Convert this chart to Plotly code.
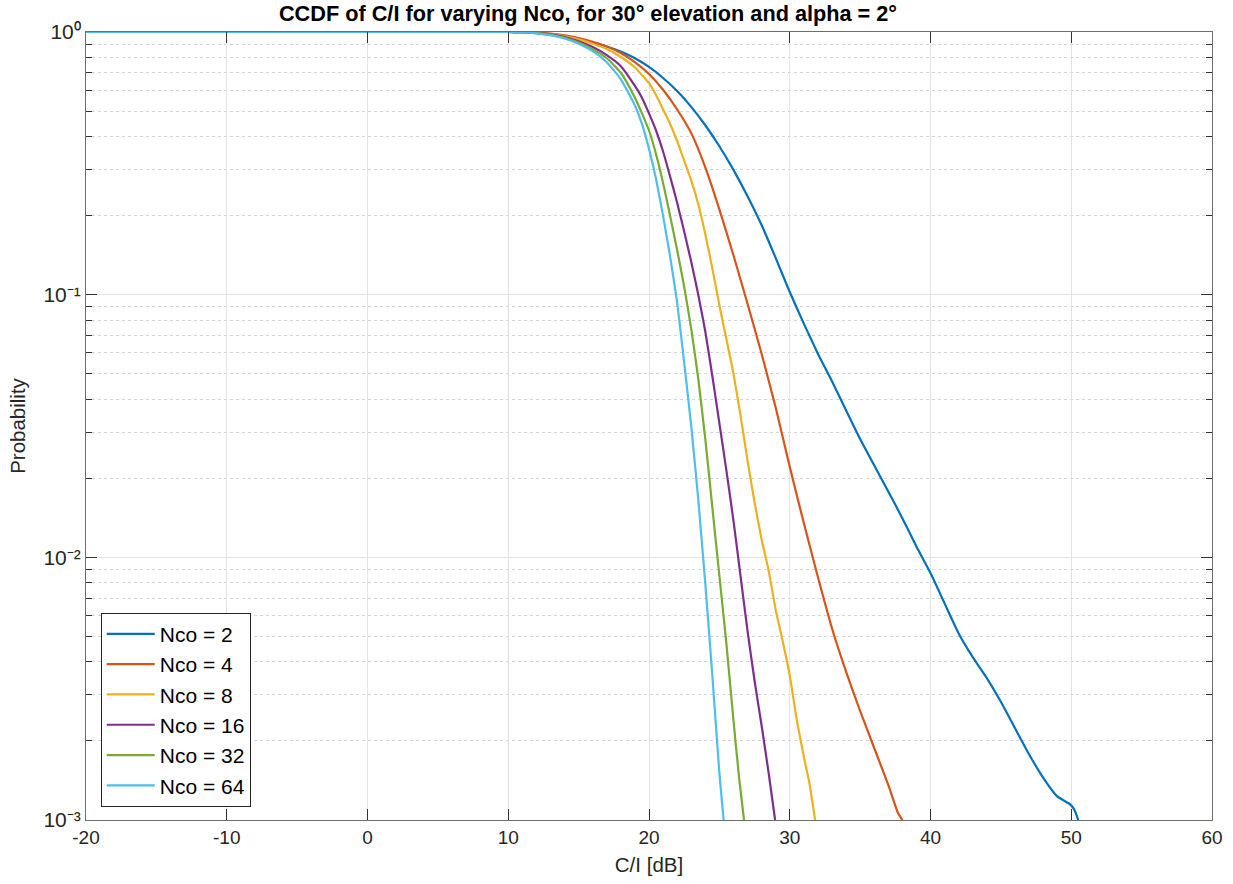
import plotly.graph_objects as go

# C/I [dB] and CCDF probabilities
ci_2 = [-20, 10, 11, 12, 13, 14, 15, 16, 17, 18, 19, 20, 21, 22, 23, 24, 25, 26, 27, 28, 29, 30,
        31, 32, 33, 34, 35, 36, 37, 38, 39, 40, 41, 42, 43, 44, 45, 46, 47, 48, 49, 49.9, 50.2, 50.5]
p_2 = [1, 1, 0.9977, 0.9931, 0.9817, 0.9638, 0.9397, 0.9120, 0.8810, 0.8433, 0.7943, 0.7362,
       0.6683, 0.5957, 0.5188, 0.4416, 0.3673, 0.2985, 0.2371, 0.1841, 0.1380, 0.1023, 0.0776,
       0.0596, 0.0468, 0.0363, 0.0282, 0.0224, 0.0178, 0.0141, 0.0110, 0.00871, 0.00668,
       0.00513, 0.00417, 0.00347, 0.00282, 0.00224, 0.00178, 0.00145, 0.00123, 0.00115,
       0.00110, 0.00100]

ci_4 = [-20, 10, 11, 12, 13, 14, 15, 16, 17, 18, 19, 20, 21, 22, 23, 24, 25, 26, 27, 28, 29, 30,
        31, 32, 33, 34, 35, 36, 37, 37.7, 38.0]
p_4 = [1, 1, 0.9977, 0.9954, 0.9863, 0.9705, 0.9484, 0.9183, 0.8810, 0.8318, 0.7674, 0.6918,
       0.6026, 0.5070, 0.4121, 0.3055, 0.2113, 0.1413, 0.0923, 0.0596, 0.0372, 0.0221, 0.0135,
       0.00841, 0.00537, 0.00367, 0.00260, 0.00188, 0.00136, 0.00106, 0.00100]

ci_8 = [-20, 10, 11, 12, 13, 14, 15, 16, 17, 18, 19, 20, 20.5, 21, 21.5, 22, 22.5, 23, 23.5, 24,
        24.5, 25, 25.5, 26, 26.5, 27, 27.5, 28, 28.5, 29, 29.5, 30, 30.5, 31, 31.4, 31.8]
p_8 = [1, 1, 0.9977, 0.9931, 0.9817, 0.9638, 0.9376, 0.9016, 0.8610, 0.8035, 0.7328, 0.6383,
       0.5754, 0.5070, 0.4467, 0.3846, 0.3236, 0.2723, 0.2213, 0.1698, 0.1259, 0.0912, 0.0676,
       0.0501, 0.0347, 0.0234, 0.0162, 0.0117, 0.00891, 0.00631, 0.00479, 0.00355, 0.00240,
       0.00174, 0.00138, 0.00100]

ci_16 = [-20, 10, 11, 12, 13, 14, 15, 16, 17, 18, 19, 19.5, 20, 20.5, 21, 21.5, 22, 22.5, 23, 23.5,
         24, 24.5, 25, 25.5, 26, 26.5, 27, 27.5, 28, 28.5, 28.96]
p_16 = [1, 1, 0.9977, 0.9931, 0.9795, 0.9572, 0.9226, 0.8770, 0.8166, 0.7413, 0.6237, 0.5623,
        0.4898, 0.4217, 0.3508, 0.2818, 0.2239, 0.1738, 0.1334, 0.1000, 0.0724, 0.0490, 0.0324,
        0.0214, 0.0138, 0.00851, 0.00525, 0.00339, 0.00229, 0.00151, 0.00100]

ci_32 = [-20, 10, 11, 12, 13, 14, 15, 16, 17, 18, 19, 19.5, 20, 20.5, 21, 21.5, 22, 22.5, 23, 23.5,
         24, 24.5, 25, 25.5, 26, 26.4, 26.75]
p_32 = [1, 1, 0.9977, 0.9908, 0.9750, 0.9506, 0.9120, 0.8590, 0.7943, 0.6998, 0.5623, 0.4898,
        0.4217, 0.3428, 0.2661, 0.1995, 0.1479, 0.1072, 0.0741, 0.0479, 0.0282, 0.0155, 0.00851,
        0.00468, 0.00240, 0.00145, 0.00100]

ci_64 = [-20, 10, 11, 12, 13, 14, 15, 16, 17, 18, 19, 19.5, 20, 20.5, 21, 21.5, 22, 22.5, 23, 23.5,
         24, 24.5, 25, 25.3]
p_64 = [1, 1, 0.9977, 0.9886, 0.9727, 0.9441, 0.9016, 0.8453, 0.7674, 0.6607, 0.5248, 0.4467,
        0.3589, 0.2754, 0.1995, 0.1396, 0.0933, 0.0550, 0.0316, 0.0166, 0.00794, 0.00355,
        0.00151, 0.00100]

series = [
    ("Nco = 2", ci_2, p_2, "#0072BD"),
    ("Nco = 4", ci_4, p_4, "#D95319"),
    ("Nco = 8", ci_8, p_8, "#EDB120"),
    ("Nco = 16", ci_16, p_16, "#7E2F8E"),
    ("Nco = 32", ci_32, p_32, "#77AC30"),
    ("Nco = 64", ci_64, p_64, "#4DBEEE"),
]

x_ticks = [-20, -10, 0, 10, 20, 30, 40, 50, 60]
y_ticks = [0.001, 0.01, 0.1, 1]
y_ticktext = ["10\u207b\u00b3", "10\u207b\u00b2", "10\u207b\u00b9", "10\u2070"]

FONT = "Liberation Sans, Arial, Helvetica, sans-serif"

fig = go.Figure()
for name, xs, ps, col in series:
    fig.add_trace(go.Scatter(x=xs, y=ps, mode="lines", name=name,
                             line=dict(color=col, width=2.2, shape="spline", smoothing=0.5),
                             cliponaxis=False))

fig.update_layout(
    width=1233, height=884,
    margin=dict(l=86, r=21, t=32, b=64),
    paper_bgcolor="white", plot_bgcolor="white",
    font=dict(family=FONT, size=19, color="#262626"),
    title=dict(text="<b>CCDF of C/I for varying Nco, for 30° elevation and alpha = 2°</b>",
               x=588 / 1233, xanchor="center", xref="container",
               y=1 - 13 / 884, yanchor="middle", yref="container",
               font=dict(family=FONT, size=21.7, color="black")),
    legend=dict(x=0.0131, y=0.0169, xanchor="left", yanchor="bottom",
                bgcolor="white", bordercolor="#262626", borderwidth=1,
                font=dict(family=FONT, size=21, color="black"),
                itemwidth=48, tracegroupgap=0, traceorder="normal"),
    showlegend=True,
)

fig.update_xaxes(
    range=[-20, 60], tickvals=x_ticks, ticktext=[str(v) for v in x_ticks],
    showgrid=True, gridcolor="#e3e3e3", gridwidth=1,
    showline=True, linecolor="#6e6e6e", linewidth=1, mirror="ticks",
    ticks="inside", ticklen=11, tickcolor="#333333",
    zeroline=False, automargin=False,
    title=dict(text="C/I [dB]", font=dict(family=FONT, size=20.5, color="#262626"), standoff=10),
    tickfont=dict(family=FONT, size=19, color="#262626"),
)

fig.update_yaxes(
    type="log", range=[-3, 0], tickvals=y_ticks, ticktext=y_ticktext,
    showgrid=True, gridcolor="#e3e3e3", gridwidth=1,
    showline=True, linecolor="#6e6e6e", linewidth=1, mirror="ticks",
    ticks="inside", ticklen=11, tickcolor="#333333",
    zeroline=False, automargin=False,
    minor=dict(dtick="D1", showgrid=True, gridcolor="#d6d6d6", griddash="dot",
               ticks="inside", ticklen=6, tickcolor="#333333"),
    title=dict(text="Probability", font=dict(family=FONT, size=20.5, color="#262626"), standoff=12),
    tickfont=dict(family=FONT, size=21, color="#262626"),
)

fig.write_html("out.html")
